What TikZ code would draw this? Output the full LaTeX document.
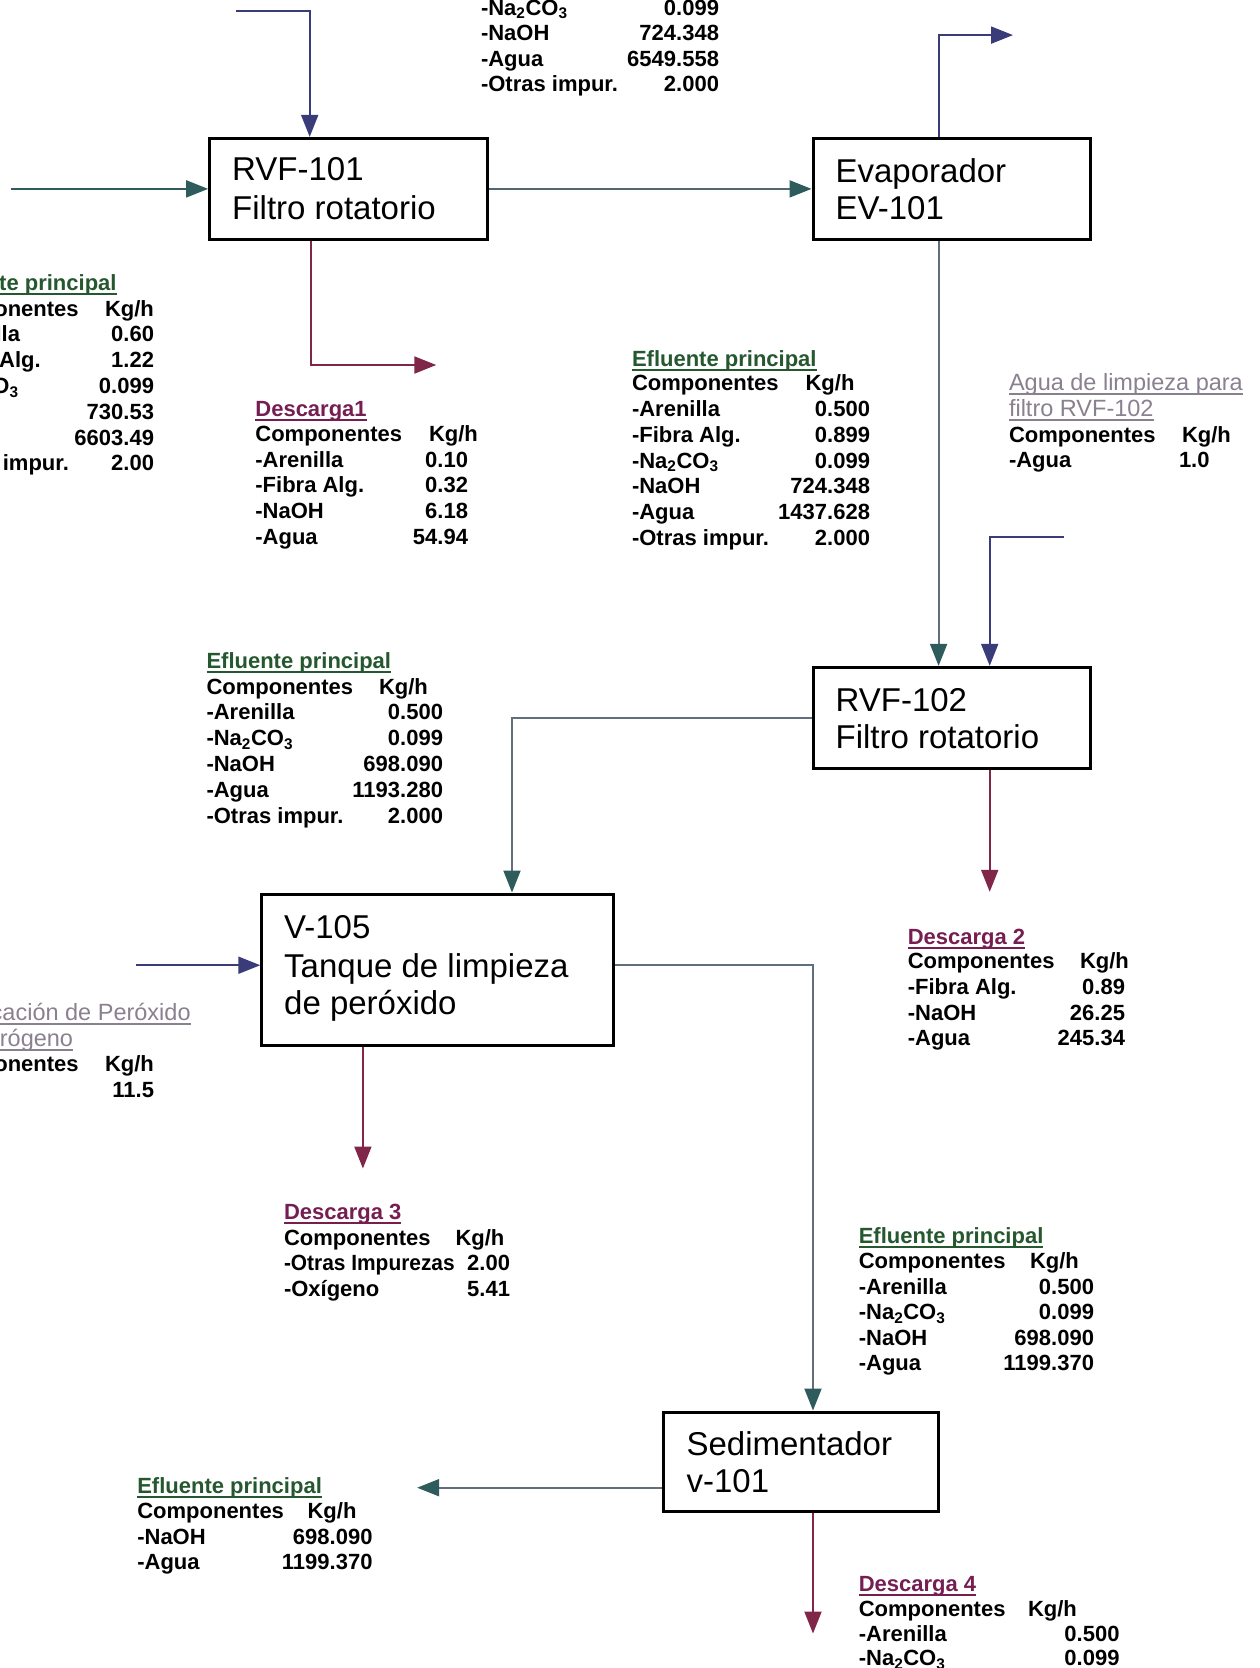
\documentclass[tikz,border=0pt]{standalone}
\usepackage{fontspec}
\setmainfont{Liberation Sans}
\usetikzlibrary{arrows.meta}
\definecolor{cnavy}{RGB}{58,60,122}
\definecolor{cteal}{RGB}{46,92,92}
\definecolor{cgreyt}{RGB}{80,104,110}
\definecolor{cgreyb}{RGB}{98,110,126}
\definecolor{cmar}{RGB}{128,38,72}
\definecolor{hgreen}{RGB}{38,88,48}
\definecolor{hmar}{RGB}{118,30,82}
\definecolor{hgrey}{RGB}{138,128,144}
\tikzset{
 tb/.style={inner sep=0pt,outer sep=0pt,font=\fontsize{22}{22}\selectfont\bfseries,text=black},
 hgr/.style={tb,text=hgreen},
 hmr/.style={tb,text=hmar},
 hgy/.style={inner sep=0pt,outer sep=0pt,font=\fontsize{23.5}{23.5}\selectfont,text=hgrey},
 unit/.style={draw=black,line width=3pt,fill=white,inner sep=0pt},
 btxt/.style={inner sep=0pt,font=\fontsize{33}{33}\selectfont},
 flow/.style={line width=2pt},
 tipa/.style={-{Triangle[length=22pt,width=17pt]}},
 tipt/.style={-{Triangle[length=22pt,width=17pt,color=cteal]}},
}
\newcount\rc
\newcommand\trow[6]{\global\advance\rc by 1
 \node[#1,anchor=base west] (l\the\rc) at (#2,#3) {#4};
 \node[#1,anchor=base east] (v\the\rc) at (#5,#3) {#6};}
\newcommand\crow[3]{\global\advance\rc by 1
 \node[tb,anchor=base west] (c\the\rc) at (#1,#2) {Componentes};
 \node[tb,anchor=base west] (k\the\rc) at (#3,#2) {Kg/h};}
\newcommand\hd[6]{%
 \node[#2,anchor=base west] (#1) at (#4,#5) {#6};
 \draw[draw=#3,line width=2pt] ([yshift=-3.5pt]#1.base west) -- ([yshift=-3.5pt]#1.base east);}
\newcommand\NaCO{-Na\textsubscript{2}CO\textsubscript{3}}
\begin{document}
\begin{tikzpicture}[x=1pt,y=-1pt]
\useasboundingbox (0,0) rectangle (1260,1668);
\clip (0,0) rectangle (1260,1668);
\fill[white] (0,0) rectangle (1260,1668);

% units
\node[unit,minimum width=277.8pt,minimum height=101.1pt] (rvf101) at (348.5,188.9) {};
\node[unit,minimum width=277.8pt,minimum height=101.1pt] (ev) at (951.9,188.9) {};
\node[unit,minimum width=277.8pt,minimum height=101.1pt] (rvf102) at (951.9,717.9) {};
\node[unit,minimum width=351.2pt,minimum height=151pt] (v105) at (437.4,969.5) {};
\node[unit,minimum width=275.6pt,minimum height=99pt] (sed) at (800.8,1461.5) {};

\node[btxt,anchor=base west] (t1a) at (232,180) {RVF-101};
\node[btxt,anchor=base west] (t1b) at (232,219.5) {Filtro rotatorio};
\node[btxt,anchor=base west] (t2a) at (835.4,182) {Evaporador};
\node[btxt,anchor=base west] (t2b) at (835.4,219.5) {EV-101};
\node[btxt,anchor=base west] (t3a) at (835.4,711) {RVF-102};
\node[btxt,anchor=base west] (t3b) at (835.4,748) {Filtro rotatorio};
\node[btxt,anchor=base west] (t4a) at (284,938) {V-105};
\node[btxt,anchor=base west] (t4b) at (284,977) {Tanque de limpieza};
\node[btxt,anchor=base west] (t4c) at (284,1014) {de peróxido};
\node[btxt,anchor=base west] (t5a) at (686.4,1455) {Sedimentador};
\node[btxt,anchor=base west] (t5b) at (686.4,1492) {v-101};

% connectors
\coordinate (a1) at (236,11);
\coordinate (a2) at (309.7,11);
\draw[flow,cnavy,tipa] (a1) -- (a2) -- (a2 |- rvf101.north);
\coordinate (b1) at (10.6,188.9);
\draw[flow,cteal,tipt] (b1) -- (rvf101.west);
\draw[flow,cgreyt,tipt] (rvf101.east) -- (ev.west);
\coordinate (c1) at (938.6,35.1);
\coordinate (c2) at (1013,35.1);
\draw[flow,cnavy,tipa] (c1 |- ev.north) -- (c1) -- (c2);
\draw[flow,cgreyb,tipt] (c1 |- ev.south) -- (c1 |- rvf102.north);
\coordinate (d1) at (310.7,365);
\coordinate (d2) at (436.3,365);
\draw[flow,cmar,tipa] (d1 |- rvf101.south) -- (d1) -- (d2);
\coordinate (e1) at (1064,537.4);
\coordinate (e2) at (989.7,537.4);
\draw[flow,cnavy,tipa] (e1) -- (e2) -- (e2 |- rvf102.north);
\coordinate (f1) at (989.7,891.8);
\draw[flow,cmar,tipa] (f1 |- rvf102.south) -- (f1);
\coordinate (g1) at (512,717.9);
\draw[flow,cgreyb,tipt] (rvf102.west) -- (g1) -- (g1 |- v105.north);
\coordinate (h1) at (136.2,965.2);
\draw[flow,cnavy,tipa] (h1) -- (h1 -| v105.west);
\coordinate (i1) at (362.9,1168.5);
\draw[flow,cmar,tipa] (i1 |- v105.south) -- (i1);
\coordinate (j1) at (813,965.2);
\draw[flow,cgreyb,tipt] (j1 -| v105.east) -- (j1) -- (j1 |- sed.north);
\coordinate (k1) at (417.2,1487.7);
\draw[flow,cgreyb,tipt] (k1 -| sed.west) -- (k1);
\coordinate (m1) at (813,1633.5);
\draw[flow,cmar,tipa] (m1 |- sed.south) -- (m1);

% top centre block
\trow{tb}{481}{15}{\NaCO}{719}{0.099}
\trow{tb}{481}{40.5}{-NaOH}{719}{724.348}
\trow{tb}{481}{66}{-Agua}{719}{6549.558}
\trow{tb}{481}{91.5}{-Otras impur.}{719}{2.000}

% left block
\hd{hA}{hgr}{hgreen}{-68}{290}{Efluente principal}
\crow{-68}{316}{105}
\trow{tb}{-68}{341.8}{-Arenilla}{154}{0.60}
\trow{tb}{-68}{367.6}{-Fibra Alg.}{154}{1.22}
\trow{tb}{-68}{393.4}{\NaCO}{154}{0.099}
\trow{tb}{-68}{419.2}{-NaOH}{154}{730.53}
\trow{tb}{-68}{445}{-Agua}{154}{6603.49}
\trow{tb}{-68}{470.8}{-Otras impur.}{154}{2.00}

% Descarga1
\hd{hB}{hmr}{hmar}{255.4}{416}{Descarga1}
\crow{255.4}{441.7}{429}
\trow{tb}{255.4}{467.3}{-Arenilla}{468}{0.10}
\trow{tb}{255.4}{492.9}{-Fibra Alg.}{468}{0.32}
\trow{tb}{255.4}{518.5}{-NaOH}{468}{6.18}
\trow{tb}{255.4}{544.1}{-Agua}{468}{54.94}

% Efluente after RVF-101
\hd{hC}{hgr}{hgreen}{632}{366}{Efluente principal}
\crow{632}{390.6}{805.6}
\trow{tb}{632}{416.4}{-Arenilla}{870}{0.500}
\trow{tb}{632}{442.2}{-Fibra Alg.}{870}{0.899}
\trow{tb}{632}{468}{\NaCO}{870}{0.099}
\trow{tb}{632}{493.8}{-NaOH}{870}{724.348}
\trow{tb}{632}{519.6}{-Agua}{870}{1437.628}
\trow{tb}{632}{545.4}{-Otras impur.}{870}{2.000}

% Agua de limpieza
\hd{hD}{hgy}{hgrey}{1009}{390}{Agua de limpieza para}
\hd{hE}{hgy}{hgrey}{1009}{416}{filtro RVF-102}
\crow{1009}{442}{1182}
\node[tb,anchor=base west] (agl) at (1009,467.5) {-Agua};
\node[tb,anchor=base west] (agv) at (1179,467.5) {1.0};

% Efluente after RVF-102
\hd{hF}{hgr}{hgreen}{206.5}{668.5}{Efluente principal}
\crow{206.5}{694}{379}
\trow{tb}{206.5}{719.8}{-Arenilla}{443}{0.500}
\trow{tb}{206.5}{745.6}{\NaCO}{443}{0.099}
\trow{tb}{206.5}{771.4}{-NaOH}{443}{698.090}
\trow{tb}{206.5}{797.2}{-Agua}{443}{1193.280}
\trow{tb}{206.5}{823}{-Otras impur.}{443}{2.000}

% Descarga 2
\hd{hG}{hmr}{hmar}{907.8}{944}{Descarga 2}
\crow{907.8}{968.5}{1080}
\trow{tb}{907.8}{994.3}{-Fibra Alg.}{1125}{0.89}
\trow{tb}{907.8}{1020}{-NaOH}{1125}{26.25}
\trow{tb}{907.8}{1045.7}{-Agua}{1125}{245.34}

% Peroxide dosing
\hd{hH}{hgy}{hgrey}{-68}{1020}{Dosificación de Peróxido}
\hd{hI}{hgy}{hgrey}{-68}{1046}{de Hidrógeno}
\crow{-68}{1071}{105}
\node[tb,anchor=base east] (pxv) at (154,1097) {11.5};

% Descarga 3
\hd{hJ}{hmr}{hmar}{284}{1219.7}{Descarga 3}
\crow{284}{1245}{455.5}
\trow{tb}{284}{1270.7}{\addfontfeature{FakeStretch=0.95}-Otras Impurezas}{510}{2.00}
\trow{tb}{284}{1296}{-Oxígeno}{510}{5.41}

% Efluente after V-105
\hd{hK}{hgr}{hgreen}{858.8}{1243}{Efluente principal}
\crow{858.8}{1268.7}{1030}
\trow{tb}{858.8}{1294}{-Arenilla}{1094}{0.500}
\trow{tb}{858.8}{1319.6}{\NaCO}{1094}{0.099}
\trow{tb}{858.8}{1345}{-NaOH}{1094}{698.090}
\trow{tb}{858.8}{1370}{-Agua}{1094}{1199.370}

% Efluente final
\hd{hL}{hgr}{hgreen}{137.3}{1493}{Efluente principal}
\crow{137.3}{1518.7}{307.6}
\trow{tb}{137.3}{1544}{-NaOH}{372.5}{698.090}
\trow{tb}{137.3}{1569.7}{-Agua}{372.5}{1199.370}

% Descarga 4
\hd{hM}{hmr}{hmar}{858.8}{1591}{Descarga 4}
\crow{858.8}{1616.7}{1028}
\trow{tb}{858.8}{1641}{-Arenilla}{1119.5}{0.500}
\trow{tb}{858.8}{1665.7}{\NaCO}{1119.5}{0.099}
\end{tikzpicture}
\end{document}
